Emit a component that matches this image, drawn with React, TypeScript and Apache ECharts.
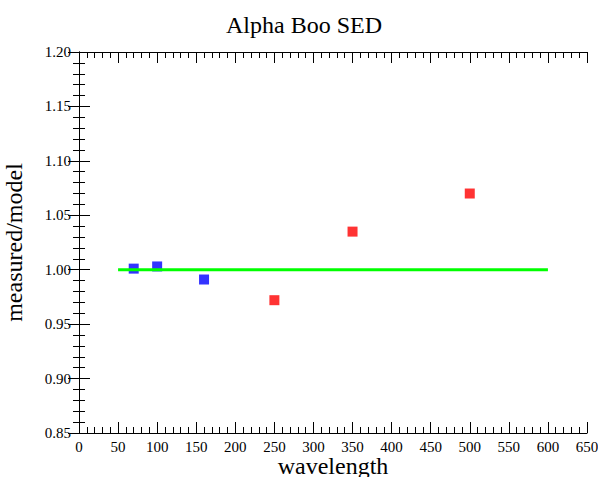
import React, { useEffect, useRef } from "react";
import * as echarts from "echarts";

const blueX = [70, 100, 160];
const blueY = [1.001, 1.003, 0.991];
const redX = [250, 350, 500];
const redY = [0.972, 1.035, 1.07];
const lineX = [50, 600];
const lineY = [1.0, 1.0];

const FONT = "'Liberation Serif', 'Times New Roman', serif";

export default function App() {
  const ref = useRef<HTMLDivElement>(null);
  useEffect(() => {
    const chart = echarts.init(ref.current!, null, { renderer: "svg" });
    const axisLine = { show: true, lineStyle: { color: "#000", width: 1 } };
    const tick = { show: true, inside: true, length: 11, lineStyle: { color: "#000" } };
    const minorTick = { show: true, inside: true, length: 6, lineStyle: { color: "#000" } };
    const xBase = { type: "value" as const, min: 0, max: 650, splitLine: { show: false } };
    const yBase = { type: "value" as const, min: 0.85, max: 1.2, splitLine: { show: false } };
    const xMajor = { ...xBase, interval: 50, axisLine, axisTick: tick };
    const yMajor = { ...yBase, interval: 0.05, axisLine, axisTick: tick };
    const xMinor = {
      ...xBase,
      interval: 10,
      axisLine: { show: false },
      axisTick: minorTick,
      axisLabel: { show: false },
    };
    const yMinor = {
      ...yBase,
      interval: 0.01,
      axisLine: { show: false },
      axisTick: minorTick,
      axisLabel: { show: false },
    };
    const pts = (xs: number[], ys: number[]) => xs.map((x, i) => [x, ys[i]]);
    chart.setOption({
      animation: false,
      backgroundColor: "#fff",
      title: {
        text: "Alpha Boo SED",
        left: 299,
        textAlign: "center",
        top: 8,
        textStyle: { fontFamily: FONT, fontSize: 24, fontWeight: "normal", color: "#000" },
      },
      grid: {
        left: 79,
        right: 11,
        top: 52,
        bottom: 44,
        containLabel: false,
        outerBoundsMode: "none",
      },
      xAxis: [
        {
          ...xMajor,
          position: "bottom",
          name: "wavelength",
          nameLocation: "middle",
          nameGap: 21,
          nameMoveOverlap: false,
          nameTextStyle: { fontFamily: FONT, fontSize: 24, color: "#000" },
          axisLabel: { fontFamily: FONT, fontSize: 15, color: "#000", margin: 6 },
        },
        { ...xMajor, position: "top", axisLabel: { show: false } },
        { ...xMinor, position: "bottom" },
        { ...xMinor, position: "top" },
      ],
      yAxis: [
        {
          ...yMajor,
          position: "left",
          name: "measured/model",
          nameLocation: "middle",
          nameGap: 53,
          nameMoveOverlap: false,
          nameTextStyle: { fontFamily: FONT, fontSize: 24, color: "#000" },
          axisLabel: {
            fontFamily: FONT,
            fontSize: 15,
            color: "#000",
            margin: 8,
            formatter: (v: number) => v.toFixed(2),
          },
        },
        { ...yMajor, position: "right", axisLabel: { show: false } },
        { ...yMinor, position: "left" },
        { ...yMinor, position: "right" },
      ],
      series: [
        {
          type: "line",
          xAxisIndex: 0,
          yAxisIndex: 0,
          data: pts(lineX, lineY),
          symbol: "none",
          lineStyle: { color: "#00ff00", width: 3 },
        },
        {
          type: "scatter",
          xAxisIndex: 0,
          yAxisIndex: 0,
          data: pts(blueX, blueY),
          symbol: "rect",
          symbolSize: 10,
          itemStyle: { color: "#0000ff" },
        },
        {
          type: "scatter",
          xAxisIndex: 0,
          yAxisIndex: 0,
          data: pts(redX, redY),
          symbol: "rect",
          symbolSize: 10,
          itemStyle: { color: "#ff0000" },
        },
      ],
    });
    return () => chart.dispose();
  }, []);
  return <div ref={ref} style={{ width: 598, height: 477, position: "absolute", left: 0, top: 0 }} />;
}
